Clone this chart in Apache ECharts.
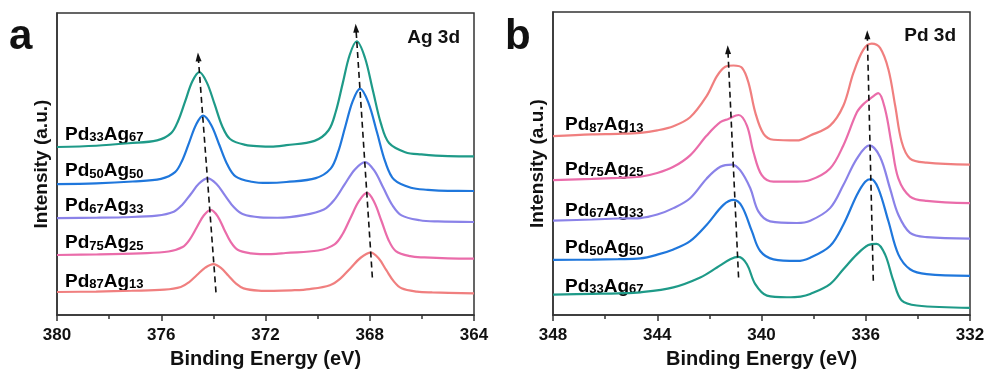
<!DOCTYPE html>
<html><head><meta charset="utf-8">
<script src="https://cdn.jsdelivr.net/npm/echarts@6/dist/echarts.min.js"></script>
<style>html,body{margin:0;padding:0;background:#fff}#c{width:988px;height:374px}</style>
</head><body><div id="c"></div>
<script>
// ---- sample names (labels) ----
const samples = ['Pd33Ag67','Pd50Ag50','Pd67Ag33','Pd75Ag25','Pd87Ag13'];
const curveColors = ['#1e9a88','#1f77dc','#8a82e8','#ea6caa','#f07f7f'];

// ---- panel a: Ag 3d  [binding energy (eV), intensity (a.u.)] ----
const agPd33Ag67 = [[380,169.7],[378.5,171],[377.24,173.5],[376.16,176.4],[375.62,183.7],[375.35,196.2],[375.08,216],[374.81,235.8],[374.54,245.3],[374.25,234.7],[373.95,212.7],[373.66,190.7],[373.36,177.8],[372.77,171.8],[372.18,170.3],[371.8,170],[371.2,171.6],[370.12,175.9],[369.58,186.6],[369.31,204.8],[369.04,233.7],[368.77,262.6],[368.5,276.5],[368.19,260.3],[367.88,226.8],[367.57,193.3],[367.26,173.7],[366.64,164.5],[366.02,162.2],[365,160.5],[364,160.3]];
const agPd50Ag50 = [[380,132.3],[378.5,133],[377.09,134.9],[376.01,137.6],[375.47,144.3],[375.2,155.9],[374.93,174.2],[374.66,192.5],[374.39,201.3],[374.08,191.7],[373.77,171.7],[373.46,151.8],[373.15,140.1],[372.53,134.6],[371.91,133.4],[371.2,134.4],[370.07,138.3],[369.5,147.9],[369.22,164.2],[368.94,190.2],[368.65,216.2],[368.37,228.7],[368.05,214.3],[367.72,184.3],[367.4,154.4],[367.07,136.9],[366.42,128.6],[365.77,126.5],[365,125.4],[364,125.3]];
const agPd67Ag33 = [[380,98],[378.5,98.3],[377.47,98.8],[376.17,100.4],[375.52,104.4],[375.2,111.2],[374.87,122],[374.55,132.8],[374.22,138],[373.88,132.3],[373.55,120.6],[373.21,108.8],[372.88,102],[372.21,98.7],[371.54,98.3],[370.54,100.9],[369.76,106.6],[369.36,116.3],[368.97,131.7],[368.57,147.1],[368.18,154.5],[367.83,146],[367.48,128.5],[367.13,110.9],[366.78,100.7],[366.08,95.8],[365.39,94.6],[364,94]];
const agPd75Ag25 = [[380,60.7],[378.5,61.2],[376.8,62.4],[375.72,64.2],[375.18,68.7],[374.91,76.3],[374.64,88.4],[374.37,100.5],[374.1,106.3],[373.84,100],[373.59,86.8],[373.33,73.7],[373.07,66],[372.56,62.4],[372.05,61.6],[371.6,61.8],[371.23,62.7],[369.98,65.2],[369.35,71.4],[369.04,81.9],[368.73,98.6],[368.41,115.3],[368.1,123.3],[367.83,114.1],[367.55,95],[367.28,75.9],[367.0,64.7],[366.45,59.5],[365.91,58.2],[365,57.2],[364,57]];
const agPd87Ag13 = [[380,23.3],[378.5,23.8],[377.13,24.6],[375.88,25.7],[375.25,28.4],[374.94,33.1],[374.63,40.5],[374.31,47.9],[374.0,51.5],[373.71,47.7],[373.42,39.7],[373.13,31.7],[372.84,27],[372.27,24.8],[371.69,24.5],[371.0,25],[370.31,26.3],[369.53,30.2],[369.13,36.9],[368.74,47.4],[368.35,57.9],[367.96,63],[367.66,57.3],[367.37,45.6],[367.07,33.8],[366.78,27],[366.19,23.7],[365.6,22.9],[364,22]];

// ---- panel b: Pd 3d ----
const pdPd87Ag13 = [[348,180.7],[346.5,182.5],[345.5,183],[344.65,184],[344.0,186.5],[343.38,190.7],[342.74,199.7],[342.1,221.3],[341.71,241.3],[341.39,250.7],[341.07,252],[340.75,249.7],[340.5,234.7],[340.24,204.7],[339.92,183],[339.54,177],[338.64,176.3],[338.13,181.3],[337.37,191.3],[336.86,211.3],[336.47,244.7],[336.09,268],[335.77,274],[335.45,269.7],[335.13,248],[334.87,211.3],[334.62,174.7],[334.3,158],[333.66,154],[332,152]];
const pdPd75Ag25 = [[348,136.3],[346.5,137.5],[345.5,138.5],[344.65,139.7],[344.0,143.5],[343.38,149.7],[342.74,161.3],[342.1,181.3],[341.58,194.7],[341.27,198],[340.88,202],[340.56,191.3],[340.31,164.7],[339.99,141.3],[339.54,134.7],[338.64,134.7],[338.13,136.3],[337.37,148],[336.86,171.3],[336.34,204.7],[336.09,213],[335.77,219.7],[335.52,224],[335.26,208],[335.0,171.3],[334.75,138],[334.3,119.7],[333.66,115.3],[332,113]];
const pdPd67Ag33 = [[348,95.3],[346.5,96.5],[345.5,97.5],[344.65,98],[344.0,101.5],[343.38,108],[342.74,118],[342.1,138],[341.58,149.7],[341.13,152],[340.82,146.3],[340.43,128],[340.12,104.7],[339.67,94.7],[338.64,93],[338.13,95.3],[337.37,108],[336.86,131.3],[336.34,158],[335.86,171.3],[335.45,159.7],[335.07,128],[334.75,101.3],[334.3,83],[333.66,78.7],[332,77.3]];
const pdPd50Ag50 = [[348,55.7],[346.5,56],[345.5,56.5],[344.65,57.3],[344.0,61],[343.38,66.3],[342.74,74.7],[342.1,91.3],[341.46,111.3],[341.07,116.3],[340.75,109.7],[340.37,84.7],[340.05,64.7],[339.54,56.3],[338.64,54.7],[338.13,58],[337.37,69.7],[336.86,91.3],[336.34,121.3],[336.02,134.7],[335.8,137.3],[335.52,128],[335.13,94.7],[334.75,61.3],[334.3,46.3],[333.66,41.3],[332,39.7]];
const pdPd33Ag67 = [[348,20.7],[346.5,21.5],[345.5,22],[344.65,23],[343.38,28],[342.35,38],[341.71,48],[341.2,56.3],[340.88,58.7],[340.56,51.3],[340.24,31.3],[339.79,19.7],[339.03,18],[338.5,18.7],[338.13,21.3],[337.37,31.3],[336.86,46.3],[336.34,61.3],[335.9,70.7],[335.58,72],[335.26,61.3],[334.94,34.7],[334.62,14.7],[334.04,9.7],[332,7.3]];

// ---- peak-shift guide arrows [[bottom],[top]] ----
const arrowsA = [[[373.90,23],[374.58,260.7]],[[367.90,38],[368.53,289.7]]];
const arrowsB = [[[340.88,38],[341.29,268]],[[335.71,34.7],[335.94,283]]];

// ---- axis ranges / ticks ----
const xRangeA = [364,380], xRangeB = [332,348], tickStep = 4;
const panelTitles = ['Ag 3d','Pd 3d'];
const panelLetters = ['a','b'];
const yTitle = 'Intensity (a.u.)', xTitle = 'Binding Energy (eV)';

const FONT = "'Liberation Sans', Arial, sans-serif";
const agData = [agPd33Ag67, agPd50Ag50, agPd67Ag33, agPd75Ag25, agPd87Ag13];
const pdData = [pdPd33Ag67, pdPd50Ag50, pdPd67Ag33, pdPd75Ag25, pdPd87Ag13];

function richName(n){ return n.replace(/([A-Za-z]+)/g,'{b|$1}').replace(/(\d+)/g,'{s|$1}'); }
const rich = { b:{fontFamily:FONT,fontWeight:'bold',fontSize:19,color:'#111',lineHeight:22,verticalAlign:'bottom'},
               s:{fontFamily:FONT,fontWeight:'bold',fontSize:13,color:'#111',lineHeight:22,verticalAlign:'bottom'} };

function xAx(idx, r){
  return { gridIndex: idx, type:'value', min:r[0], max:r[1], interval:tickStep, inverse:true,
    axisLine:{show:true,onZero:false,lineStyle:{color:'#333',width:1.5}},
    axisTick:{show:true,length:6,lineStyle:{color:'#333',width:1.5}},
    minorTick:{show:true,splitNumber:2,length:4,lineStyle:{color:'#333',width:1.5}},
    splitLine:{show:false},
    axisLabel:{fontFamily:FONT,fontWeight:'bold',fontSize:17,color:'#111',margin:12},
    name:xTitle, nameLocation:'middle', nameGap:32,
    nameTextStyle:{fontFamily:FONT,fontWeight:'bold',fontSize:20,color:'#111'} };
}
function yAx(idx, max){
  return { gridIndex: idx, type:'value', min:0, max:max,
    axisLine:{show:true,lineStyle:{color:'#333',width:1.5}},
    axisTick:{show:false}, axisLabel:{show:false}, splitLine:{show:false},
    name:yTitle, nameLocation:'middle', nameGap:6,
    nameTextStyle:{fontFamily:FONT,fontWeight:'bold',fontSize:19,color:'#111'} };
}
const series = [];
function addCurves(data, gi){
  data.forEach((d,i)=>{
    series.push({ type:'line', xAxisIndex:gi, yAxisIndex:gi, data:d, showSymbol:false, symbol:'none',
      smooth:0.35, lineStyle:{color:curveColors[i],width:2.2}, itemStyle:{color:curveColors[i]},
      silent:true, z:2 });
  });
}
addCurves(agData,0); addCurves(pdData,1);
function addArrows(arrs, gi){
  series.push({ type:'line', xAxisIndex:gi, yAxisIndex:gi, data:[], silent:true, z:5,
    markLine:{ silent:true, symbol:['none','triangle'], symbolSize:[6,9], animation:false,
      label:{show:false}, lineStyle:{color:'#111',type:[6,4],width:1.6},
      data: arrs.map(a=>[{coord:a[0]},{coord:a[1]}]) } });
}
addArrows(arrowsA,0); addArrows(arrowsB,1);

const labelYA = [133,169.5,204.5,241.5,280];
const labelYB = [285,246.7,209,168,123.5];
const graphic = [];
samples.forEach((n,i)=>{
  graphic.push({type:'text', x:65, y:labelYA[i], style:{text:richName(n), rich:rich, verticalAlign:'middle', align:'left'}});
  graphic.push({type:'text', x:565, y:labelYB[i], style:{text:richName(n), rich:rich, verticalAlign:'middle', align:'left'}});
});
graphic.push({type:'text', x:460, y:38, style:{text:panelTitles[0], fontFamily:FONT, fontWeight:'bold', fontSize:19, fill:'#111', align:'right', verticalAlign:'middle'}});
graphic.push({type:'text', x:956, y:36, style:{text:panelTitles[1], fontFamily:FONT, fontWeight:'bold', fontSize:19, fill:'#111', align:'right', verticalAlign:'middle'}});
graphic.push({type:'text', x:9, y:58, style:{text:panelLetters[0], fontFamily:FONT, fontWeight:'bold', fontSize:42, fill:'#111', align:'left', verticalAlign:'bottom'}});
graphic.push({type:'text', x:505, y:58, style:{text:panelLetters[1], fontFamily:FONT, fontWeight:'bold', fontSize:42, fill:'#111', align:'left', verticalAlign:'bottom'}});

const chart = echarts.init(document.getElementById('c'), null, {renderer:'canvas'});
chart.setOption({
  animation:false,
  backgroundColor:'#fff',
  grid:[ {left:57, top:13, width:417, height:305, show:true, borderColor:'#333', borderWidth:1.5, backgroundColor:'transparent'},
         {left:553, top:12, width:417, height:306, show:true, borderColor:'#333', borderWidth:1.5, backgroundColor:'transparent'} ],
  xAxis:[ xAx(0,xRangeA), xAx(1,xRangeB) ],
  yAxis:[ yAx(0,305), yAx(1,306) ],
  series: series,
  graphic: graphic
});
</script></body></html>
